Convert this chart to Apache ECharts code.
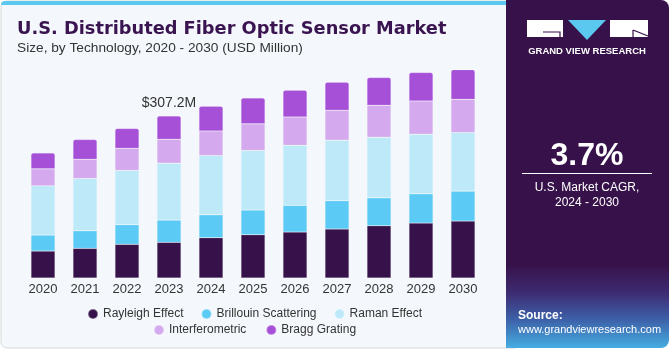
<!DOCTYPE html>
<html>
<head>
<meta charset="utf-8">
<script src="https://cdn.jsdelivr.net/npm/echarts@6/dist/echarts.min.js"></script>
<style>html,body{margin:0;padding:0;background:#fff;}#c{width:670px;height:350px;}</style>
</head>
<body>
<div id="c"></div>
<script>
var years = ['2020','2021','2022','2023','2024','2025','2026','2027','2028','2029','2030'];
var rayleigh   = [51.1, 56.2, 63.8, 67.6, 76.3, 82.0, 87.1, 92.8, 99.0, 104.1, 107.9];
var brillouin  = [30.3, 33.3, 37.1, 42.2, 43.5, 46.8, 50.5, 53.6, 53.0, 55.5, 56.8];
var raman      = [93.3, 99.2, 103.0, 107.9, 112.4, 113.0, 114.1, 114.9, 114.9, 113.0, 111.1];
var interfero  = [32.2, 36.5, 42.2, 45.4, 46.6, 50.4, 53.6, 56.8, 60.6, 63.0, 63.0];
var bragg      = [30.3, 37.3, 37.3, 44.1, 46.8, 49.2, 50.5, 53.0, 52.4, 53.8, 56.2];
var labelYearIndex = 3;
var labelText = '$307.2M';

var font = '"Liberation Sans", Arial, sans-serif';
var chart = echarts.init(document.getElementById('c'), null, {renderer:'canvas'});

function ser(name, data, color, top){
  var s = {
    name: name, type: 'bar', stack: 'total', data: data, barWidth: 24,
    itemStyle: {color: color, borderColor: 'rgba(255,255,255,0.35)', borderWidth: 0.5},
    emphasis: {disabled: true}
  };
  if (top) {
    s.itemStyle.borderRadius = [2,2,0,0];
    s.label = {
      show: true, position: 'top', distance: 6, color: '#333', fontSize: 14, fontFamily: font,
      formatter: function(p){ return p.dataIndex === labelYearIndex ? labelText : ''; }
    };
  }
  return s;
}

var legendText = {color:'#333', fontSize:12, fontFamily: font};
chart.setOption({
  animation: false,
  grid: {left: 22, right: 186, top: 67, height: 211, containLabel: false},
  xAxis: {
    type: 'category', data: years,
    axisLine: {show: false}, axisTick: {show: false},
    axisLabel: {color: '#333', fontSize: 13, fontFamily: font, margin: 5}
  },
  yAxis: {type: 'value', min: 0, max: 400, show: false, splitLine: {show: false}},
  legend: [
    {left: 87, top: 308, padding: 0, itemWidth: 10, itemHeight: 10, itemGap: 17, icon: 'circle',
     data: ['Rayleigh Effect','Brillouin Scattering','Raman Effect'], textStyle: legendText},
    {left: 153, top: 324, padding: 0, itemWidth: 10, itemHeight: 10, itemGap: 19, icon: 'circle',
     data: ['Interferometric','Bragg Grating'], textStyle: legendText}
  ],
  series: [
    ser('Rayleigh Effect', rayleigh, '#37124a'),
    ser('Brillouin Scattering', brillouin, '#5bcaf5'),
    ser('Raman Effect', raman, '#bde9f9'),
    ser('Interferometric', interfero, '#d4a9ed'),
    ser('Bragg Grating', bragg, '#a64fd7', true)
  ],
  graphic: [
    {type:'rect', z:-10, silent:true, shape:{x:1, y:1, width:520, height:347, r:6},
     style:{fill:'#f4f8fc', stroke:'#d8d8d8', lineWidth:1}},
    {type:'rect', z:-9, silent:true, shape:{x:1, y:1, width:510, height:4, r:[4,4,0,0]},
     style:{fill:'#5bc8f0'}},
    {type:'rect', z:-8, silent:true, shape:{x:506, y:0, width:163, height:348, r:[0,8,8,0]},
     style:{fill: new echarts.graphic.LinearGradient(0,0,0,1,[
       {offset:0, color:'#37124a'},{offset:0.76, color:'#37124a'},
       {offset:0.84, color:'#3d2a70'},{offset:0.92, color:'#3d62aa'},{offset:1, color:'#46aee2'}])}},
    {type:'text', left:17, top:20, style:{text:'U.S. Distributed Fiber Optic Sensor Market', fill:'#3a1450', font:'bold 17.8px "DejaVu Sans", sans-serif'}},
    {type:'text', left:17, top:41, style:{text:'Size, by Technology, 2020 - 2030 (USD Million)', fill:'#333', font:'13.7px '+font}},
    // logo
    {type:'rect', silent:true, shape:{x:527, y:20, width:36, height:17}, style:{fill:'#fff'}},
    {type:'polyline', silent:true, shape:{points:[[543,32],[560,32],[560,37]]}, style:{stroke:'#37124a', lineWidth:1.2, fill:null}},
    {type:'polygon', silent:true, shape:{points:[[568,20],[606,20],[587,40]]}, style:{fill:'#5bc8f0'}},
    {type:'rect', silent:true, shape:{x:610, y:20, width:38, height:17}, style:{fill:'#fff'}},
    {type:'polyline', silent:true, shape:{points:[[633,30],[648,36]]}, style:{stroke:'#37124a', lineWidth:1.2, fill:null}},
    {type:'line', silent:true, shape:{x1:633, y1:30, x2:633, y2:37}, style:{stroke:'#37124a', lineWidth:1.2}},
    {type:'text', x:587, y:51, style:{text:'GRAND VIEW RESEARCH', fill:'#fff', font:'bold 9.5px '+font, align:'center', verticalAlign:'middle'}},
    {type:'text', x:587, y:156, style:{text:'3.7%', fill:'#fff', font:'bold 32px '+font, align:'center', verticalAlign:'middle'}},
    {type:'line', silent:true, shape:{x1:522, y1:173.5, x2:652, y2:173.5}, style:{stroke:'#ffffff', lineWidth:1}},
    {type:'text', x:587, y:188, style:{text:'U.S. Market CAGR,', fill:'#fff', font:'12px '+font, align:'center', verticalAlign:'middle'}},
    {type:'text', x:587, y:203, style:{text:'2024 - 2030', fill:'#fff', font:'12px '+font, align:'center', verticalAlign:'middle'}},
    {type:'text', x:518, y:316, style:{text:'Source:', fill:'#fff', font:'bold 12px '+font, verticalAlign:'middle'}},
    {type:'text', x:518, y:330, style:{text:'www.grandviewresearch.com', fill:'#fff', font:'11px '+font, verticalAlign:'middle'}}
  ]
});
</script>
</body>
</html>
